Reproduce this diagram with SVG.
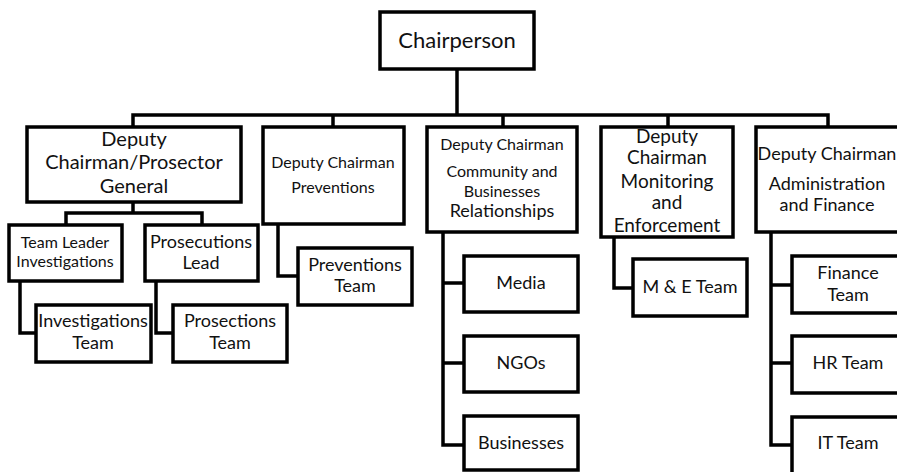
<svg xmlns="http://www.w3.org/2000/svg" width="897" height="472" viewBox="0 0 897 472">
<style>
.box{fill:#fff;stroke:#000;stroke-width:3.5}
.ln{fill:none;stroke:#000;stroke-width:3.5;stroke-linejoin:miter}
text{font-family:Lato,"Open Sans","Liberation Sans",sans-serif;fill:#111;text-anchor:middle}
.f22{font-size:22px}.f20{font-size:20px}.f19{font-size:19px}.f18{font-size:18px}.f17{font-size:17px}.f16{font-size:16px}
</style>
<rect width="897" height="472" fill="#fff"/>
<g id="connectors">
<path class="ln" d="M457 69V115M133 127V115H828V127M333 115V127M503 115V127M668 115V127"/>
<path class="ln" d="M133 202V213H66V225M133 213H202V225"/>
<path class="ln" d="M20 281V333H36M156 281V333H173"/>
<path class="ln" d="M278 224V276H298"/>
<path class="ln" d="M443 232V445H464M443 283H464M443 363H464"/>
<path class="ln" d="M614 237V288H633"/>
<path class="ln" d="M771 232V445H792M771 285H792M771 363H792"/>
</g>
<g id="chairperson"><rect class="box" x="380" y="12" width="154" height="57"/><text class="f22" x="457" y="48">Chairperson</text></g>
<g id="dc-prosecutor"><rect class="box" x="27" y="127" width="214" height="75"/><text class="f20" x="134" y="146">Deputy</text><text class="f20" x="134" y="169">Chairman/Prosector</text><text class="f20" x="134" y="193">General</text></g>
<g id="dc-preventions"><rect class="box" x="263" y="127" width="141" height="97"/><text class="f16" x="333" y="168">Deputy Chairman</text><text class="f16" x="333" y="193">Preventions</text></g>
<g id="dc-community"><rect class="box" x="427" y="127" width="150" height="105"/><text class="f16" x="502" y="150">Deputy Chairman</text><text class="f16" x="502" y="177">Community and</text><text class="f16" x="502" y="197">Businesses</text><text class="f18" x="502" y="217">Relationships</text></g>
<g id="dc-monitoring"><rect class="box" x="601" y="127" width="132" height="110"/><text class="f19" x="667" y="143">Deputy</text><text class="f19" x="667" y="164">Chairman</text><text class="f19" x="667" y="188">Monitoring</text><text class="f19" x="667" y="209">and</text><text class="f19" x="667" y="232">Enforcement</text></g>
<g id="dc-admin"><rect class="box" x="756" y="127" width="160" height="105"/><text class="f18" x="827" y="160">Deputy Chairman</text><text class="f18" x="827" y="190">Administration</text><text class="f18" x="827" y="211">and Finance</text></g>
<g id="tl-investigations"><rect class="box" x="9" y="225" width="113" height="56"/><text class="f16" x="65" y="248">Team Leader</text><text class="f16" x="65" y="267">Investigations</text></g>
<g id="prosecutions-lead"><rect class="box" x="145" y="225" width="113" height="56"/><text class="f18" x="201" y="248">Prosecutions</text><text class="f18" x="201" y="269">Lead</text></g>
<g id="investigations-team"><rect class="box" x="36" y="305" width="115" height="57"/><text class="f18" x="93" y="327">Investigations</text><text class="f18" x="93" y="349">Team</text></g>
<g id="prosections-team"><rect class="box" x="173" y="305" width="114" height="57"/><text class="f18" x="230" y="327">Prosections</text><text class="f18" x="230" y="349">Team</text></g>
<g id="preventions-team"><rect class="box" x="298" y="248" width="114" height="57"/><text class="f18" x="355" y="271">Preventions</text><text class="f18" x="355" y="292">Team</text></g>
<g id="media"><rect class="box" x="464" y="256" width="114" height="56"/><text class="f18" x="521" y="289">Media</text></g>
<g id="ngos"><rect class="box" x="464" y="336" width="114" height="56"/><text class="f18" x="521" y="369">NGOs</text></g>
<g id="businesses"><rect class="box" x="464" y="416" width="114" height="54"/><text class="f18" x="521" y="449">Businesses</text></g>
<g id="me-team"><rect class="box" x="633" y="259" width="114" height="57"/><text class="f18" x="690" y="293">M &amp; E Team</text></g>
<g id="finance-team"><rect class="box" x="792" y="256" width="120" height="57"/><text class="f18" x="848" y="279">Finance</text><text class="f18" x="848" y="301">Team</text></g>
<g id="hr-team"><rect class="box" x="792" y="336" width="120" height="57"/><text class="f18" x="848" y="369">HR Team</text></g>
<g id="it-team"><rect class="box" x="792" y="417" width="120" height="60"/><text class="f18" x="848" y="449">IT Team</text></g>
</svg>
